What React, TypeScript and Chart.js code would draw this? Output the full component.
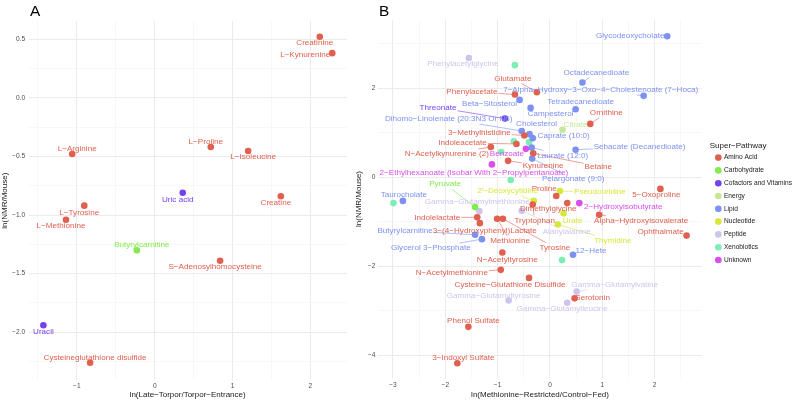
import React, { useEffect, useRef } from 'react';
import { Chart, registerables } from 'chart.js';

Chart.register(...registerables);

const FONT = '"Liberation Sans", Arial, Helvetica, sans-serif';
const LABEL_SIZE = 8.1;

// ---------- categories ----------
const PATHWAYS = [
  'Amino Acid',
  'Carbohydrate',
  'Cofactors and Vitamins',
  'Energy',
  'Lipid',
  'Nucleotide',
  'Peptide',
  'Xenobiotics',
  'Unknown',
];
const PATHWAY_COLORS = [
  '#E0604F',
  '#82EB4D',
  '#7440F2',
  '#C6E699',
  '#7D91F3',
  '#D6E83A',
  '#CFC4EE',
  '#7DEEB3',
  '#D94EEC',
];

// ---------- panel A data ----------
const A_NAMES = [
  'Creatinine',
  'L−Kynurenine',
  'L−Proline',
  'L−Isoleucine',
  'Uric acid',
  'Creatine',
  'L−Arginine',
  'L−Tyrosine',
  'L−Methionine',
  'Butyrylcarnitine',
  'S−Adenosylhomocysteine',
  'Uracil',
  'Cysteineglutathione disulfide',
];
const A_PATHWAY = [
  'Amino Acid', 'Amino Acid', 'Amino Acid', 'Amino Acid', 'Cofactors and Vitamins', 'Amino Acid',
  'Amino Acid', 'Amino Acid', 'Amino Acid', 'Carbohydrate', 'Amino Acid', 'Cofactors and Vitamins', 'Amino Acid',
];
const A_X = [2.12, 2.28, 0.72, 1.2, 0.36, 1.62, -1.06, -0.905, -1.14, -0.23, 0.84, -1.43, -0.83];
const A_Y = [0.52, 0.38, -0.42, -0.454, -0.81, -0.84, -0.48, -0.92, -1.04, -1.3, -1.39, -1.94, -2.26];

// ---------- panel B data ----------
const B_NAMES = [
  'Glycodeoxycholate',
  'Phenylacetylglycine',
  '',
  'Octadecanedioate',
  'Glutamate',
  '7−Alpha−Hydroxy−3−Oxo−4−Cholestenoate (7−Hoca)',
  'Phenylacetate',
  'Beta−Sitosterol',
  'Campesterol',
  'Tetradecanedioate',
  'Threonate',
  'Ornithine',
  'Citrate',
  'Dihomo−Linolenate (20:3N3 Or N6)',
  'Cholesterol',
  '3−Methylhistidine',
  'Caprate (10:0)',
  '',
  '',
  'Indoleacetate',
  'N−Acetylkynurenine (2)',
  'Benzoate',
  'Laurate (12:0)',
  '',
  'Betaine',
  'Sebacate (Decanedioate)',
  'Kynurenine',
  'Pelargonate (9:0)',
  '2−Ethylhexanoate (Isobar With 2−Propylpentanoate)',
  '',
  'Pyruvate',
  '2′−Deoxycytidine',
  'Proline',
  'Pseudouridine',
  '5−Oxoproline',
  'Taurocholate',
  '',
  'Gamma−Glutamylmethionine',
  'Tryptophan',
  'Dimethylglycine',
  '2−Hydroxyisobutyrate',
  'Urate',
  'Alpha−Hydroxyisovalerate',
  'Alanylalanine',
  'Indolelactate',
  '3−(4−Hydroxyphenyl)Lactate',
  'Methionine',
  'Tyrosine',
  'Butyrylcarnitine',
  'Glycerol 3−Phosphate',
  '12−Hete',
  '',
  'N−Acetyltyrosine',
  'N−Acetylmethionine',
  'Cysteine−Glutathione Disulfide',
  'Gamma−Glutamylvaline',
  'Serotonin',
  'Gamma−Glutamyltyrosine',
  'Gamma−Glutamylleucine',
  'Phenol Sulfate',
  '3−Indoxyl Sulfate',
  'Ophthalmate',
  'Thymidine',
];
const B_PATHWAY = [
  'Lipid', 'Peptide', 'Xenobiotics', 'Lipid', 'Amino Acid', 'Lipid', 'Amino Acid', 'Lipid', 'Lipid', 'Lipid',
  'Cofactors and Vitamins', 'Amino Acid', 'Energy', 'Lipid', 'Lipid', 'Amino Acid', 'Lipid', 'Xenobiotics', 'Xenobiotics', 'Amino Acid',
  'Amino Acid', 'Unknown', 'Lipid', 'Xenobiotics', 'Amino Acid', 'Lipid', 'Amino Acid', 'Lipid', 'Unknown', 'Xenobiotics',
  'Carbohydrate', 'Nucleotide', 'Amino Acid', 'Nucleotide', 'Amino Acid', 'Lipid', 'Xenobiotics', 'Peptide', 'Amino Acid', 'Amino Acid',
  'Unknown', 'Nucleotide', 'Amino Acid', 'Peptide', 'Amino Acid', 'Amino Acid', 'Amino Acid', 'Amino Acid', 'Lipid', 'Lipid',
  'Lipid', 'Xenobiotics', 'Amino Acid', 'Amino Acid', 'Amino Acid', 'Peptide', 'Amino Acid', 'Peptide', 'Peptide', 'Amino Acid',
  'Amino Acid', 'Amino Acid', 'Nucleotide',
];
const B_X = [
  2.24, -1.55, -0.67, 0.62, -0.25, 1.79, -0.67, -0.58, -0.37, 0.49,
  -0.86, 0.77, 0.24, -0.54, -0.39, -0.49, -0.33, -0.69, -0.4, -0.64,
  -1.13, -0.46, -0.35, -0.93, -0.32, 0.49, -0.8, -0.34, -1.11, -0.75,
  -1.43, -0.31, 0.12, 0.19, 2.11, -2.81, -2.99, -1.35, -0.33, 0.33,
  0.56, 0.26, 0.94, -0.54, -1.39, -1.34, -1.01, -0.9, -1.43, -1.3,
  0.44, 0.23, -0.91, -0.94, -0.4, 0.51, 0.47, -0.79, 0.33, -1.56,
  -1.77, 2.61, 0.15,
];
const B_Y = [
  3.17, 2.68, 2.52, 2.13, 1.91, 1.83, 1.86, 1.74, 1.56, 1.53,
  1.32, 1.2, 1.07, 1.04, 0.97, 0.94, 0.88, 0.81, 0.79, 0.75,
  0.68, 0.64, 0.67, 0.57, 0.54, 0.62, 0.37, 0.42, 0.29, -0.06,
  -0.67, -0.53, -0.42, -0.31, -0.26, -0.53, -0.58, -0.76, -0.61, -0.58,
  -0.58, -0.81, -0.84, -0.75, -0.9, -1.03, -0.93, -0.93, -1.29, -1.39,
  -1.74, -1.86, -1.69, -2.08, -2.26, -2.57, -2.72, -2.77, -2.82, -3.36,
  -4.18, -1.31, -1.06,
];

// ---------- axes ----------
const A_X_RANGE = [-1.62, 2.466];
const A_Y_RANGE = [-2.41, 0.654];
const B_X_RANGE = [-3.28, 2.9];
const B_Y_RANGE = [-4.51, 3.535];
const A_X_MAJOR = [-1, 0, 1, 2];
const A_X_MINOR = [-1.5, -0.5, 0.5, 1.5];
const A_Y_MAJOR = [-2, -1.5, -1, -0.5, 0, 0.5];
const A_Y_MINOR = [-2.25, -1.75, -1.25, -0.75, -0.25, 0.25];
const B_X_MAJOR = [-3, -2, -1, 0, 1, 2];
const B_X_MINOR = [-2.5, -1.5, -0.5, 0.5, 1.5, 2.5];
const B_Y_MAJOR = [-4, -2, 0, 2];
const B_Y_MINOR = [-3, -1, 1, 3];

// ---------- label layout (pixel offsets of repelled labels) ----------
const A_LABEL_DX = [-5, -27, -5, 5, -5, -5, 5, -5, -5, 5, -5, 0, 5];
const A_LABEL_DY = [6, 2, -5, 6, 7, 7, -5, 7, 6, -5, 6, 6, -5];
const B_LABEL_DX = [
  -37, -6, 0, 14, -24, -43, -43, -30, 20, 5,
  -67, 16, 13, -73, 7, -45, 31, 0, 0, -54,
  -44, -19, 31, 0, 65, 64, 35, 41, -18, 0,
  -30, -26, -12, 40, -4, 1, 0, -2, 2, -19,
  44, 9, 42, 45, -40, 5, 13, 52, -70, -51,
  18, 0, 5, -49, -19, 38, 18, -15, -5, 5,
  6, -26, 55,
];
const B_LABEL_DY = [
  0, 6, 0, -10, -14, -6, -3, 4, 6, -7,
  -11, -11, -5, -12, -10, -3, -2, 0, 0, -1,
  7, 5, 8, 0, 13, -3, 5, 20, 8, 0,
  -23, -10, -7, 1, 6, -6, 0, -9, 16, 6,
  4, 7, 6, 21, 0, 8, 22, 29, -4, 9,
  -4, 0, 7, 3, 7, -7, -1, -5, 6, -6,
  -6, -4, 16,
];
const B_LABEL_SEG = [
  0, 0, 0, 1, 1, 1, 1, 0, 0, 0,
  1, 1, 0, 1, 0, 1, 1, 0, 0, 1,
  1, 0, 1, 0, 1, 1, 1, 1, 0, 0,
  1, 1, 0, 1, 0, 0, 0, 0, 1, 0,
  0, 0, 1, 1, 1, 0, 1, 1, 1, 1,
  0, 0, 0, 1, 0, 1, 0, 0, 0, 0,
  0, 0, 1,
];

const LEGEND_SHIFT_X = 8;
const LEGEND_SHIFT_Y = -4.5;

function buildDatasets(names: string[], paths: string[], xs: number[], ys: number[], dxs: number[], dys: number[], segs?: number[]) {
  return PATHWAYS.map((p, k) => ({
    label: p,
    data: names
      .map((n, i) => ({ x: xs[i], y: ys[i], label: n, dx: dxs[i], dy: dys[i], seg: segs ? segs[i] : 0, p: paths[i] }))
      .filter((d) => d.p === p),
    backgroundColor: PATHWAY_COLORS[k],
    borderColor: PATHWAY_COLORS[k],
    borderWidth: 0,
    pointRadius: 3.3,
    pointHoverRadius: 3.3,
    pointStyle: 'circle',
  }));
}

const minus = (s: string) => s.replace(/-/g, '−');

function axis(range: number[], major: number[], minor: number[], fmt: (v: number) => string, title: string, tickPad: number, horizontal: boolean, size: number) {
  const all = [...major, ...minor].sort((a, b) => a - b);
  return {
    type: 'linear',
    min: range[0],
    max: range[1],
    afterBuildTicks: (s: any) => {
      s.ticks = all.map((v) => ({ value: v }));
    },
    afterFit: (s: any) => {
      if (horizontal) s.height = size;
      else s.width = size;
    },
    ticks: {
      autoSkip: false,
      padding: tickPad,
      maxRotation: 0,
      minRotation: 0,
      color: '#4D4D4D',
      font: { size: 6.6, family: FONT },
      callback: (v: number) => (major.includes(v) ? minus(fmt(v)) : ''),
    },
    grid: {
      drawTicks: false,
      color: (c: any) => (c.tick && major.includes(c.tick.value) ? '#EBEBEB' : '#F4F4F4'),
      lineWidth: (c: any) => (c.tick && major.includes(c.tick.value) ? 1 : 0.7),
    },
    border: { display: false },
    title: {
      display: true,
      text: title,
      color: '#1A1A1A',
      font: { size: 8, family: FONT },
      padding: 0,
    },
  };
}

const pointLabelPlugin = {
  id: 'pointLabels',
  afterDatasetsDraw(chart: any) {
    const ctx = chart.ctx;
    ctx.save();
    ctx.font = `${LABEL_SIZE}px ${FONT}`;
    const items: any[] = [];
    chart.data.datasets.forEach((ds: any, di: number) => {
      const meta = chart.getDatasetMeta(di);
      meta.data.forEach((el: any, j: number) => {
        const d = ds.data[j];
        if (!d || !d.label) return;
        items.push({ px: el.x, py: el.y, lx: el.x + d.dx, ly: el.y + d.dy, text: d.label, seg: d.seg, color: ds.backgroundColor });
      });
    });
    ctx.lineWidth = 0.6;
    items.forEach((it) => {
      if (!it.seg) return;
      const hw = ctx.measureText(it.text).width / 2 + 1;
      const hh = LABEL_SIZE / 2 + 1;
      const ddx = it.px - it.lx;
      const ddy = it.py - it.ly;
      const sx = Math.abs(ddx) > 1e-6 ? hw / Math.abs(ddx) : Infinity;
      const sy = Math.abs(ddy) > 1e-6 ? hh / Math.abs(ddy) : Infinity;
      const s = Math.min(sx, sy);
      if (s >= 1) return;
      ctx.strokeStyle = it.color;
      ctx.beginPath();
      ctx.moveTo(it.px, it.py);
      ctx.lineTo(it.lx + ddx * s, it.ly + ddy * s);
      ctx.stroke();
    });
    ctx.textAlign = 'center';
    ctx.textBaseline = 'middle';
    items.forEach((it) => {
      ctx.fillStyle = it.color;
      ctx.fillText(it.text, it.lx, it.ly);
    });
    ctx.restore();
  },
};

const legendShiftPlugin = {
  id: 'legendShift',
  afterLayout(chart: any) {
    const l = chart.legend;
    if (!l || !l.options.display) return;
    l.left += LEGEND_SHIFT_X;
    l.right += LEGEND_SHIFT_X;
    l.top += LEGEND_SHIFT_Y;
    l.bottom += LEGEND_SHIFT_Y;
  },
};

export default function App() {
  const refA = useRef<HTMLCanvasElement | null>(null);
  const refB = useRef<HTMLCanvasElement | null>(null);

  useEffect(() => {
    Chart.defaults.font.family = FONT;
    const chartA = new Chart(refA.current as HTMLCanvasElement, {
      type: 'scatter',
      data: { datasets: buildDatasets(A_NAMES, A_PATHWAY, A_X, A_Y, A_LABEL_DX, A_LABEL_DY) as any },
      options: {
        responsive: false,
        animation: false,
        events: [],
        layout: { padding: { left: 0, right: 2.6, top: 21, bottom: 0 } },
        plugins: { legend: { display: false }, tooltip: { enabled: false } },
        scales: {
          x: axis(A_X_RANGE, A_X_MAJOR, A_X_MINOR, (v) => String(v), 'ln(Late−Torpor/Torpor−Entrance)', 1.5, true, 19.6) as any,
          y: axis(A_Y_RANGE, A_Y_MAJOR, A_Y_MINOR, (v) => v.toFixed(1), 'ln(NMR/Mouse)', 3.5, false, 28.6) as any,
        },
      },
      plugins: [pointLabelPlugin],
    });
    const chartB = new Chart(refB.current as HTMLCanvasElement, {
      type: 'scatter',
      data: {
        datasets: buildDatasets(B_NAMES, B_PATHWAY, B_X, B_Y, B_LABEL_DX, B_LABEL_DY, B_LABEL_SEG) as any,
      },
      options: {
        responsive: false,
        animation: false,
        events: [],
        layout: { padding: { left: 34, right: 0, top: 20, bottom: 0 } },
        plugins: {
          tooltip: { enabled: false },
          legend: {
            display: true,
            position: 'right',
            align: 'center',
            title: {
              display: true,
              text: 'Super−Pathway',
              position: 'start',
              color: '#1A1A1A',
              font: { size: 8, family: FONT },
              padding: { top: 0, bottom: -3 },
            },
            labels: {
              usePointStyle: true,
              pointStyle: 'circle',
              boxWidth: 4.7,
              boxHeight: 4.7,
              padding: 6.2,
              color: '#1A1A1A',
              font: { size: 6.6, family: FONT },
            },
          },
        },
        scales: {
          x: axis(B_X_RANGE, B_X_MAJOR, B_X_MINOR, (v) => String(v), 'ln(Methionine−Restricted/Control−Fed)', 3.5, true, 22) as any,
          y: axis(B_Y_RANGE, B_Y_MAJOR, B_Y_MINOR, (v) => String(v), 'ln(NMR/Mouse)', 3, false, 24.3) as any,
        },
      },
      plugins: [pointLabelPlugin, legendShiftPlugin],
    });
    return () => {
      chartA.destroy();
      chartB.destroy();
    };
  }, []);

  const letter: React.CSSProperties = {
    position: 'absolute',
    top: 2.7,
    fontFamily: FONT,
    fontSize: 15.4,
    lineHeight: '15px',
    color: '#000',
  };

  return (
    <div style={{ position: 'fixed', left: 0, top: 0, width: 794, height: 400, background: '#fff', overflow: 'hidden' }}>
      <canvas ref={refA} width={350} height={400} style={{ position: 'absolute', left: 0, top: 0, width: 350, height: 400 }} />
      <canvas ref={refB} width={474} height={400} style={{ position: 'absolute', left: 320, top: 0, width: 474, height: 400 }} />
      <span style={{ ...letter, left: 30 }}>A</span>
      <span style={{ ...letter, left: 379 }}>B</span>
    </div>
  );
}
